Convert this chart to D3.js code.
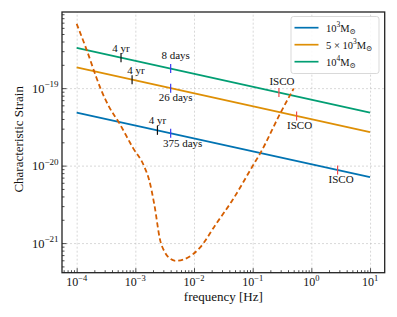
<!DOCTYPE html>
<html>
<head>
  <meta charset="utf-8">
  <script src="https://d3js.org/d3.v7.min.js"></script>
  <style>
    body { margin: 0; background: #fff; }
    svg { display: block; font-family: "Liberation Serif", "DejaVu Serif", serif; }
  </style>
</head>
<body>
<svg></svg>
<script>
// --- data ---
// inspiral tracks (endpoints), frequency in Hz
var lineFreq = [1e-4, 10];
var strainM1e3 = [4.84e-20, 7.1e-21];
var strainM5e3 = [1.85e-19, 2.7e-20];
var strainM1e4 = [3.31e-19, 4.84e-20];

// detector sensitivity (dashed)
var noiseFreq = [1.0e-4, 1.48e-4, 2.14e-4, 2.61e-4, 3.61e-4, 5.2e-4, 9.0e-4, 1.42e-3,
                 1.73e-3, 2.11e-3, 2.64e-3, 3.13e-3, 3.8e-3, 4.94e-3, 6.85e-3, 9.4e-3,
                 1.24e-2, 2.38e-2, 4.56e-2, 0.1, 0.135, 0.296, 0.5];
var noiseStrain = [6.76e-19, 3.12e-19, 1.41e-19, 9.5e-20, 5.65e-20, 3.64e-20, 1.72e-20, 9.7e-21,
                   6.4e-21, 3.12e-21, 1.1e-21, 7.8e-22, 6.4e-22, 5.9e-22, 6.2e-22, 7.1e-22,
                   8.6e-22, 1.77e-21, 3.62e-21, 9.9e-21, 1.45e-20, 4.75e-20, 9.9e-20];

// markers along each track (order: 1e3, 5e3, 1e4)
var yrFreq = [2.38e-3, 8.8e-4, 5.7e-4];
var yrLabel = ["4 yr", "4 yr", "4 yr"];
var dayFreq = [4e-3, 4e-3, 4e-3];
var dayLabel = ["375 days", "26 days", "8 days"];
var iscoFreq = [2.8, 0.56, 0.28];
var iscoLabel = ["ISCO", "ISCO", "ISCO"];

var massPrefix = ["", "5 \u00d7 ", ""];
var massExp = ["3", "3", "4"];
var xTickExp = [-4, -3, -2, -1, 0, 1];
var yTickExp = [-21, -20, -19];

// --- styling / layout ---
var colors = ["#0173B2", "#DE8F05", "#029E73"];
var noiseColor = "#D55E00";
// label offsets (dx, dy) in px from the point on the track
var yrOff = [[0, -6], [4, -6], [0, -6]];
var dayOff = [[12, 14], [5, 12.5], [5, -10]];
var iscoOff = [[3.5, 13], [3, 13], [3, -7.5]];

var W = 397, H = 317;
var pL = 62, pT = 12, pR = 384.7, pB = 272.7;

var svg = d3.select("svg").attr("width", W).attr("height", H);

function padLog(ext) {
  var a = Math.log10(ext[0]), b = Math.log10(ext[1]), p = (b - a) * 0.05;
  return [Math.pow(10, a - p), Math.pow(10, b + p)];
}
var strains = [strainM1e3, strainM5e3, strainM1e4];
var x = d3.scaleLog()
    .domain(padLog(d3.extent(lineFreq.concat(noiseFreq))))
    .range([pL, pR]);
var y = d3.scaleLog()
    .domain(padLog(d3.extent(noiseStrain.concat(strainM1e3, strainM5e3, strainM1e4))))
    .range([pB, pT]);

var majorX = xTickExp.map(function(e) { return Math.pow(10, e); });
var majorY = yTickExp.map(function(e) { return Math.pow(10, e); });
var minorX = [], minorY = [];
for (var e = -5; e <= 1; e++) for (var k = 2; k < 10; k++) {
  var v = k * Math.pow(10, e);
  if (v > x.domain()[0] && v < x.domain()[1]) minorX.push(v);
}
for (var e = -22; e <= -18; e++) for (var k = 2; k < 10; k++) {
  var v = k * Math.pow(10, e);
  if (v > y.domain()[0] && v < y.domain()[1]) minorY.push(v);
}

// grid
svg.append("g")
    .attr("transform", "translate(0," + pB + ")")
    .call(d3.axisBottom(x).tickValues(majorX).tickSize(-(pB - pT)).tickFormat(""))
    .call(function(g) { g.select(".domain").remove(); })
    .selectAll("line")
    .attr("stroke", "#bdbdbd").attr("stroke-width", 0.6).attr("stroke-dasharray", "2,2");
svg.append("g")
    .attr("transform", "translate(" + pL + ",0)")
    .call(d3.axisLeft(y).tickValues(majorY).tickSize(-(pR - pL)).tickFormat(""))
    .call(function(g) { g.select(".domain").remove(); })
    .selectAll("line")
    .attr("stroke", "#bdbdbd").attr("stroke-width", 0.6).attr("stroke-dasharray", "2,2");

// tracks
var line = d3.line().x(function(d) { return x(d[0]); }).y(function(d) { return y(d[1]); });
strains.forEach(function(s, i) {
  svg.append("path")
      .datum(lineFreq.map(function(f, j) { return [f, s[j]]; }))
      .attr("fill", "none")
      .attr("stroke", colors[i])
      .attr("stroke-width", 1.7)
      .attr("d", line);
});

// noise curve
svg.append("path")
    .datum(noiseFreq.map(function(f, j) { return [f, noiseStrain[j]]; }))
    .attr("fill", "none")
    .attr("stroke", noiseColor)
    .attr("stroke-width", 1.8)
    .attr("stroke-dasharray", "5,3")
    .attr("d", line.curve(d3.curveMonotoneX));

// strain on a track at frequency f (straight line in log-log)
function trackStrain(i, f) {
  var s = strains[i];
  var t = (Math.log10(f) - Math.log10(lineFreq[0])) / (Math.log10(lineFreq[1]) - Math.log10(lineFreq[0]));
  return Math.pow(10, Math.log10(s[0]) + t * (Math.log10(s[1]) - Math.log10(s[0])));
}

function addMarker(i, f, col, label, off) {
  var px = x(f), py = y(trackStrain(i, f));
  svg.append("line")
      .attr("x1", px).attr("x2", px)
      .attr("y1", py - 4.5).attr("y2", py + 4.5)
      .attr("stroke", col).attr("stroke-width", 1.2);
  svg.append("text")
      .attr("x", px + off[0]).attr("y", py + off[1])
      .attr("text-anchor", "middle")
      .attr("font-size", "11px")
      .attr("fill", "#111")
      .text(label);
}
for (var i = 0; i < 3; i++) {
  addMarker(i, yrFreq[i], "#111", yrLabel[i], yrOff[i]);
  addMarker(i, dayFreq[i], "#3b3bf2", dayLabel[i], dayOff[i]);
  addMarker(i, iscoFreq[i], "#f04a4a", iscoLabel[i], iscoOff[i]);
}

// frame
svg.append("rect")
    .attr("x", pL).attr("y", pT)
    .attr("width", pR - pL).attr("height", pB - pT)
    .attr("fill", "none").attr("stroke", "#222").attr("stroke-width", 1.3);

// inward ticks
function ticks(axis, vals, size, tr) {
  svg.append("g")
      .attr("transform", tr)
      .call(axis.tickValues(vals).tickSize(-size).tickFormat(""))
      .call(function(g) { g.select(".domain").remove(); })
      .selectAll("line").attr("stroke", "#222").attr("stroke-width", 0.8);
}
ticks(d3.axisBottom(x), majorX, 4.5, "translate(0," + pB + ")");
ticks(d3.axisBottom(x), minorX, 2.5, "translate(0," + pB + ")");
ticks(d3.axisLeft(y), majorY, 4.5, "translate(" + pL + ",0)");
ticks(d3.axisLeft(y), minorY, 2.5, "translate(" + pL + ",0)");

// tick labels 10^n
xTickExp.forEach(function(e) {
  var t = svg.append("text")
      .attr("x", x(Math.pow(10, e))).attr("y", 286)
      .attr("text-anchor", "middle").attr("font-size", "12px").attr("fill", "#111");
  t.append("tspan").text("10");
  t.append("tspan").attr("font-size", "8.5px").attr("dy", -5.5)
      .text(e < 0 ? "\u2212" + (-e) : String(e));
});
yTickExp.forEach(function(e) {
  var t = svg.append("text")
      .attr("x", 58.5).attr("y", y(Math.pow(10, e)) + 4.5)
      .attr("text-anchor", "end").attr("font-size", "12.5px").attr("fill", "#111");
  t.append("tspan").text("10");
  t.append("tspan").attr("font-size", "9px").attr("dy", -5.5).text("\u2212" + (-e));
});

// axis titles
svg.append("text")
    .attr("x", (pL + pR) / 2).attr("y", 301)
    .attr("text-anchor", "middle").attr("font-size", "13px").attr("fill", "#111")
    .text("frequency [Hz]");
svg.append("text")
    .attr("transform", "translate(22.5," + ((pT + pB) / 2 - 3) + ") rotate(-90)")
    .attr("text-anchor", "middle").attr("font-size", "13px").attr("fill", "#111")
    .text("Characteristic Strain");

// legend
var lg = svg.append("g");
lg.append("rect")
    .attr("x", 291).attr("y", 16.5).attr("width", 88).attr("height", 57).attr("rx", 2.5)
    .attr("fill", "#fff").attr("fill-opacity", 0.85)
    .attr("stroke", "#cfcfcf").attr("stroke-width", 0.8);
massExp.forEach(function(m, i) {
  var ly = 27.7 + i * 17;
  lg.append("line")
      .attr("x1", 294.5).attr("x2", 318.5).attr("y1", ly).attr("y2", ly)
      .attr("stroke", colors[i]).attr("stroke-width", 1.7);
  var t = lg.append("text")
      .attr("x", 326).attr("y", ly + 4)
      .attr("font-size", "10.5px").attr("fill", "#111");
  t.append("tspan").text(massPrefix[i] + "10");
  t.append("tspan").attr("font-size", "7.5px").attr("dy", -4.5).text(m);
  t.append("tspan").attr("dy", 4.5).text("M");
  t.append("tspan").attr("font-size", "7.5px").attr("dy", 2.5).text("\u2299");
});
</script>
</body>
</html>
